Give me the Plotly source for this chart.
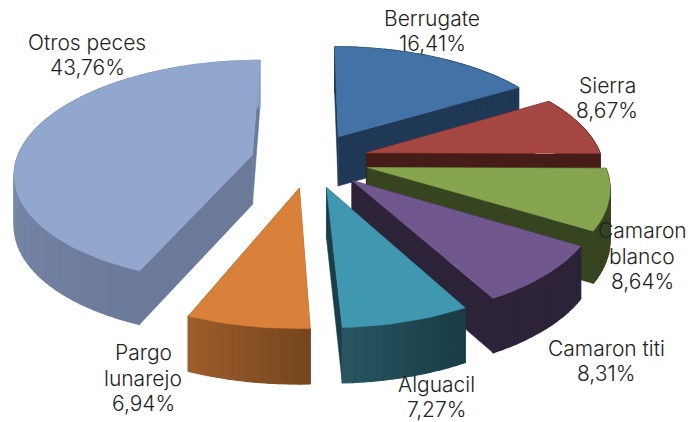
import math
import plotly.graph_objects as go

categories = ["Berrugate", "Sierra", "Camaron<br>blanco", "Camaron titi", "Alguacil", "Pargo<br>lunarejo", "Otros peces"]
values = [16.41, 8.67, 8.64, 8.31, 7.27, 6.94, 43.76]
top_colors = ["#4372A6", "#A54643", "#87A44F", "#70588F", "#3F97B0", "#D9813A", "#92A7CD"]
radial_colors = ["#1F3855", "#461C19", "#374420", "#2C2339", "#1B3F4A", "#76461E", "#6B7A99"]
arc_start = ["#1F3855", "#461C19", "#374420", "#2C2339", "#193C46", "#76461E", "#6B7A99"]
arc_end = ["#1F3855", "#461C19", "#374420", "#2C2339", "#27545F", "#9C5C2B", "#8A9DC0"]
label_x = [432, 607, 642, 606, 436, 143, 87]
label_y = [31, 98, 256, 361, 397, 378, 55]

CX, CY, RX, RY, P, PULL, DEPTH = 310, 160, 236, 110, 0.15, 0.25, 50
LINE_STEP = 25.5


def project(u, v):
    f = 1 / (1 + P * v)
    return CX + RX * u * f, CY - RY * v * f, DEPTH * f ** 0.5


def hexmix(a, b, t):
    ca = [int(a[i:i + 2], 16) for i in (1, 3, 5)]
    cb = [int(b[i:i + 2], 16) for i in (1, 3, 5)]
    return "#%02x%02x%02x" % tuple(round(x + (y - x) * t) for x, y in zip(ca, cb))


fig = go.Figure()


def poly(xs, ys, color, width=1.2):
    fig.add_trace(go.Scatter(
        x=xs + xs[:1], y=ys + ys[:1], mode="lines", fill="toself", fillcolor=color,
        line=dict(color=color, width=width), hoverinfo="skip", showlegend=False))


total = sum(values)
start = 0.0
for i, val in enumerate(values):
    sweep = val / total * 360
    end = start + sweep
    mid = math.radians(start + sweep / 2)
    ox, oy = PULL * math.sin(mid), PULL * math.cos(mid)
    n = max(6, int(sweep / 2))
    angles = [math.radians(start + sweep * k / n) for k in range(n + 1)]
    rim = [project(ox + math.sin(a), oy + math.cos(a)) for a in angles]
    apex = project(ox, oy)

    # radial walls
    for p in (rim[0], rim[-1]):
        poly([apex[0], p[0], p[0], apex[0]],
             [apex[1], p[1], p[1] + p[2], apex[1] + apex[2]], radial_colors[i], 0.5)
    # outer wall, in strips to get the shading
    for k in range(n):
        a, b = rim[k], rim[k + 1]
        poly([a[0], b[0], b[0], a[0]],
             [a[1], b[1], b[1] + b[2], a[1] + a[2]],
             hexmix(arc_start[i], arc_end[i], k / max(1, n - 1)))
    # top face
    poly([apex[0]] + [p[0] for p in rim], [apex[1]] + [p[1] for p in rim], top_colors[i], 0.5)
    start = end

for name, val, lx, ly in zip(categories, values, label_x, label_y):
    lines = name.split("<br>") + [f"{val:.2f}%".replace(".", ",")]
    for j, line in enumerate(lines):
        fig.add_annotation(
            x=lx, y=ly + (j - (len(lines) - 1) / 2) * LINE_STEP, xref="x", yref="y",
            showarrow=False, align="center", text=line,
            font=dict(family="Inter, sans-serif", size=21, color="#222222", weight=300))

fig.update_layout(
    width=690, height=422, margin=dict(l=0, r=0, t=0, b=0),
    paper_bgcolor="white", plot_bgcolor="white", showlegend=False,
    xaxis=dict(range=[0, 690], visible=False, fixedrange=True),
    yaxis=dict(range=[422, 0], visible=False, fixedrange=True))
fig.write_html("out.html", config={"displayModeBar": False},
               post_script="document.body.style.margin='0';")
